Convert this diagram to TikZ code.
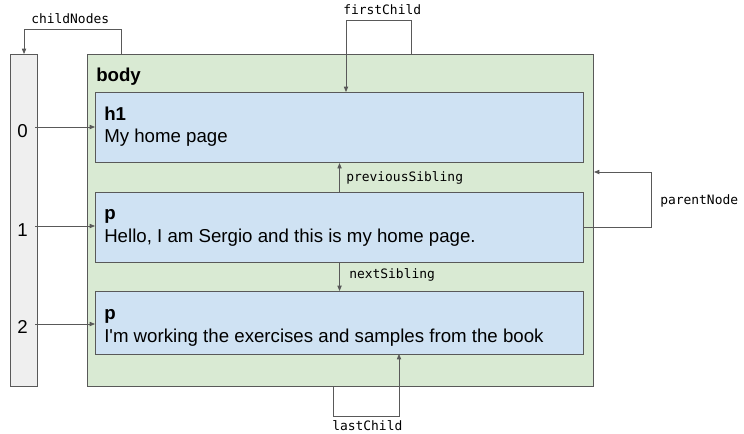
\documentclass[tikz,border=0pt]{standalone}
\usepackage{fontspec}
\setmainfont{Liberation Sans}
\setmonofont{DejaVu Sans Mono}
\usetikzlibrary{positioning,arrows.meta}

\definecolor{bodygreen}{HTML}{D9EAD3}
\definecolor{elemblue}{HTML}{CFE2F3}
\definecolor{listgray}{HTML}{EFEFEF}
\definecolor{edgegray}{HTML}{595959}

\begin{document}
\begin{tikzpicture}[x=0.75pt,y=-0.75pt]

    \tikzset{
      box/.style={
        draw=edgegray,
        line width=0.8pt,
        anchor=north west,
        inner sep=0pt,
      },
      link/.style={
        draw=edgegray,
        line width=0.6pt,
        -{Triangle[length=4pt,width=3.2pt]},
      },
      tag/.style={font=\bfseries\fontsize{14}{16}\selectfont, anchor=base west, inner sep=0pt},
      txt/.style={font=\fontsize{14}{16}\selectfont, anchor=base west, inner sep=0pt},
      prop/.style={font=\ttfamily\fontsize{9.7}{12}\selectfont, anchor=base west, inner sep=0pt},
    }
    \useasboundingbox (0,0) rectangle (744,433);

	% boxes
	\node[box, fill=bodygreen, minimum width=379.5pt, minimum height=249pt] (body) at (87,54) {};
	\node[box, fill=elemblue, minimum width=366pt, minimum height=52.5pt] (h1) at (95,92) {};
	\node[box, fill=elemblue, minimum width=366pt, minimum height=52.5pt] (p1) at (95,192) {};
	\node[box, fill=elemblue, minimum width=366pt, minimum height=47.25pt] (p2) at (95,291) {};
	\node[box, fill=listgray, minimum width=20.25pt, minimum height=249pt] (arr) at (10,54) {};

	% texts
	\node[tag] (tbody) at (96,81) {body};
	\node[tag] (th1) at (104,120) {h1};
	\node[txt] (xh1) at (104,142) {My home page};
	\node[tag] (tp1) at (104,219) {p};
	\node[txt] (xp1) at (104,242) {Hello, I am Sergio and this is my home page.};
	\node[tag] (tp2) at (104,319) {p};
	\node[txt] (xp2) at (104,342) {I\textquotesingle m working the exercises and samples from the book};
	\node[txt] (n0) at (17,137) {0};
	\node[txt] (n1) at (17,236) {1};
	\node[txt] (n2) at (17,333) {2};

	% child list
	\coordinate (a0) at (35,127);
	\coordinate (a1) at (35,226);
	\coordinate (a2) at (35,324);
	\draw[link] (a0) -- (a0 -| h1.west);
	\draw[link] (a1) -- (a1 -| p1.west);
	\draw[link] (a2) -- (a2 -| p2.west);

	\coordinate (cnA) at (121,54);
	\draw[link] (cnA) -- ++(0,-25) -| (arr.north);
	\node[prop] (lcn) at (31,23) {childNodes};

	\coordinate (fcA) at (411,54);
	\coordinate (fcB) at (346,92);
	\draw[link] (fcA) -- ++(0,-34) -| (fcB);
	\node[prop] (lfc) at (343,14) {firstChild};

	\draw[link] (p1.north) -- (h1.south);
	\node[prop] (lps) at (346,181) {previousSibling};
	\draw[link] (p1.south) -- (p2.north);
	\node[prop] (lns) at (349,278) {nextSibling};

	\coordinate (pnB) at (594,172);
	\draw[link] (p1.east) -- ++(67,0) |- (pnB);
	\node[prop] (lpn) at (660,204) {parentNode};

	\coordinate (lcA) at (333,386);
	\coordinate (lcB) at (399,354);
	\draw[link] (lcA) -- ++(0,30) -| (lcB);
	\node[prop] (llc) at (332,430) {lastChild};

\end{tikzpicture}
\end{document}
